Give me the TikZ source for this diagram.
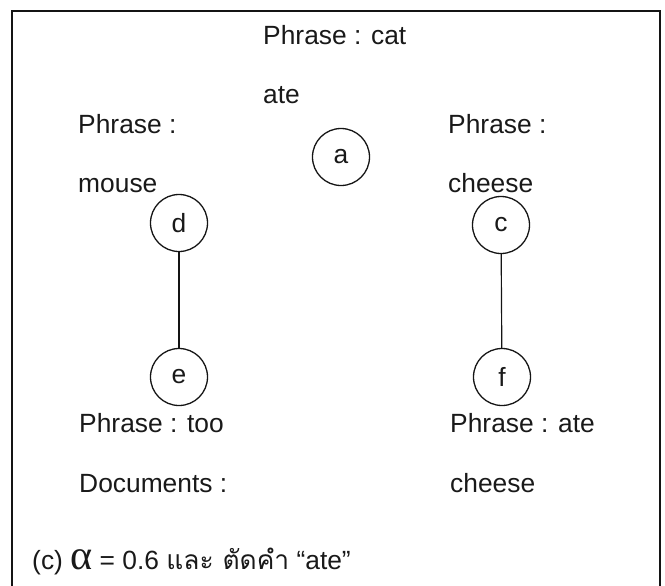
\documentclass[tikz,border=0pt]{standalone}
\usepackage{fontspec}
\setmainfont{Liberation Sans}
\newfontfamily\thaifont[Script=Thai]{Loma}
\newfontfamily\alphafont{Liberation Serif}
\usepackage{tikz}
\usetikzlibrary{shapes,positioning}
\usepackage{xcolor}
\definecolor{grline}{RGB}{20,20,20}
\definecolor{grtext}{RGB}{25,25,25}
\tikzstyle{phrase} = [anchor=base west, inner sep=0pt, text=grtext, font=\fontsize{22.5}{27}\selectfont]
\tikzstyle{vertex} = [circle, draw=grline, line width=1.1pt, minimum size=17.1mm, inner sep=0pt, text=grtext, font=\fontsize{22.5}{27}\selectfont]
\tikzstyle{edge} = [line width=1pt, color=grline]

\begin{document}
\begin{tikzpicture}[x=0.3mm, y=-0.3mm]
\useasboundingbox (0,0) rectangle (665,585);
\clip (0,0) rectangle (665,585);
% frame, open at the bottom
\draw[line width=1.3pt, grline] (12,600) -- (12,11) -- (660,11) -- (660,600);

% vertices
\node[vertex] (a) at (341,157) {a};
\node[vertex] (d) at (179,223) {d};
\node[vertex] (c) at (501,225) {c};
\node[vertex] (e) at (179,377) {e};
\node[vertex] (f) at (502,377) {f};

\draw[edge] (d) -- (e);
\draw[edge] (c) -- (f);

% phrase labels
\node[phrase] (pa1) at (263,44) {Phrase : cat};
\node[phrase] (pa2) at (263,103) {ate};
\node[phrase] (pd1) at (78,133) {Phrase :};
\node[phrase] (pd2) at (78,192) {mouse};
\node[phrase] (pc1) at (448,133) {Phrase :};
\node[phrase] (pc2) at (448,192) {cheese};
\node[phrase] (pe1) at (79,432) {Phrase : too};
\node[phrase] (pe2) at (79,492) {Documents :};
\node[phrase] (pf1) at (450,432) {Phrase : ate};
\node[phrase] (pf2) at (450,492) {cheese};

% caption
\node[phrase] (cap) at (32,569) {(c) {\alphafont\fontsize{36}{36}\selectfont α} = 0.6 {\thaifont และ ตัดคำ} “ate”};
\end{tikzpicture}
\end{document}
